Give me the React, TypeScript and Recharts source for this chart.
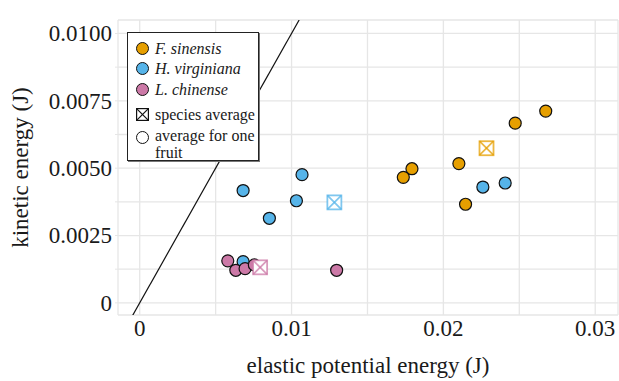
import React from "react";
import {
  ScatterChart,
  Scatter,
  XAxis,
  YAxis,
  CartesianGrid,
  ReferenceLine,
} from "recharts";

// individual fruit averages (J)
const fsX = [0.02674, 0.02473, 0.02102, 0.01793, 0.01736, 0.02146];
const fsY = [0.00712, 0.00667, 0.00517, 0.00498, 0.00466, 0.00366];
const hvX = [0.00681, 0.01069, 0.01032, 0.00854, 0.0226, 0.02407, 0.00681];
const hvY = [0.00417, 0.00476, 0.00379, 0.00314, 0.0043, 0.00445, 0.00153];
const lcX = [0.0058, 0.00633, 0.00694, 0.00755, 0.01297];
const lcY = [0.00156, 0.00121, 0.00127, 0.00141, 0.00121];

// species averages
const avgX = [0.02284, 0.01282, 0.00793];
const avgY = [0.00574, 0.00373, 0.00132];

const species = ["F. sinensis", "H. virginiana", "L. chinense"];
const colors = ["#E69F00", "#56B4E9", "#CC79A7"];

const xTicks = [0, 0.005, 0.01, 0.015, 0.02, 0.025, 0.03];
const yTicks = [0, 0.00125, 0.0025, 0.00375, 0.005, 0.00625, 0.0075, 0.00875, 0.01];
const xDomain = [-0.00143, 0.0315];
const yDomain = [-0.00045, 0.0105];

const toPoints = (xs: number[], ys: number[]) => xs.map((x, i) => ({ x, y: ys[i] }));

const FONT = "'Liberation Serif', 'Times New Roman', serif";
const GRID = "#e6e6e6";
const TEXT = "#1a1a1a";
const txtStyle = { fontFamily: FONT, fill: TEXT };

const fmtX = (v: number) => {
  if (v === 0) return "0";
  const k = Math.round(v / 0.005);
  return k % 2 === 0 ? v.toFixed(2) : "";
};
const fmtY = (v: number) => {
  if (v === 0) return "0";
  const k = Math.round(v / 0.00125);
  return k % 2 === 0 ? v.toFixed(4) : "";
};

// eslint-disable-next-line @typescript-eslint/no-explicit-any
const XTick = (p: any) => (
  <text x={p.x} y={p.y + 16} textAnchor="middle" fontSize={23} style={txtStyle}>
    {fmtX(p.payload.value)}
  </text>
);
// eslint-disable-next-line @typescript-eslint/no-explicit-any
const YTick = (p: any) => (
  <text x={p.x} y={p.y + 7.8} textAnchor="end" fontSize={23} style={txtStyle}>
    {fmtY(p.payload.value)}
  </text>
);

// eslint-disable-next-line @typescript-eslint/no-explicit-any
const dot = (color: string) => (props: any) => (
  <circle cx={props.cx} cy={props.cy} r={6} fill={color} stroke="#111" strokeWidth={1.2} />
);

// eslint-disable-next-line @typescript-eslint/no-explicit-any
const avgMark = (props: any) => {
  const { cx, cy } = props;
  const c = props.payload.color;
  const h = 7;
  return (
    <g stroke={c} strokeOpacity={0.75} strokeWidth={1.8} fill="#fff">
      <rect x={cx - h} y={cy - h} width={h * 2} height={h * 2} />
      <line x1={cx - h} y1={cy - h} x2={cx + h} y2={cy + h} />
      <line x1={cx - h} y1={cy + h} x2={cx + h} y2={cy - h} />
    </g>
  );
};

function LegendBox() {
  const row = { display: "flex", alignItems: "center", height: 20 } as const;
  const icon = (c: string) => (
    <span
      style={{
        width: 11,
        height: 11,
        borderRadius: "50%",
        background: c,
        border: "1px solid #111",
        marginRight: 6,
        flex: "none",
      }}
    />
  );
  return (
    <div
      style={{
        position: "absolute",
        left: 127,
        top: 32,
        width: 132,
        height: 129,
        border: "1px solid #222",
        boxShadow: "1px 1px 0 #777",
        background: "#fff",
        fontFamily: FONT,
        fontSize: 16,
        color: TEXT,
        padding: "5px 0 0 8px",
        boxSizing: "border-box",
        lineHeight: "17px",
      }}
    >
      {species.map((s, i) => (
        <div key={s} style={{ ...row, height: 20.5, fontStyle: "italic" }}>
          {icon(colors[i])}
          {s}
        </div>
      ))}
      <div style={{ ...row, marginTop: 5 }}>
        <svg width={13} height={13} style={{ marginRight: 6, flex: "none" }}>
          <g stroke="#111" strokeWidth={1.2} fill="#fff">
            <rect x={0.6} y={0.6} width={11.8} height={11.8} />
            <line x1={0.6} y1={0.6} x2={12.4} y2={12.4} />
            <line x1={0.6} y1={12.4} x2={12.4} y2={0.6} />
          </g>
        </svg>
        species average
      </div>
      <div style={{ display: "flex", alignItems: "flex-start", marginTop: 2 }}>
        <span
          style={{
            width: 11,
            height: 11,
            borderRadius: "50%",
            border: "1px solid #111",
            marginRight: 6,
            marginTop: 4,
            flex: "none",
          }}
        />
        <span>
          average for one
          <br />
          fruit
        </span>
      </div>
    </div>
  );
}

export default function App() {
  const avgData = avgX.map((x, i) => ({ x, y: avgY[i], color: colors[i] }));
  return (
    <div style={{ position: "fixed", left: 0, top: 0, width: 619, height: 381, background: "#fff" }}>
      <ScatterChart width={619} height={381} margin={{ top: 20, right: 1, left: 0, bottom: 0 }}>
        <CartesianGrid stroke={GRID} strokeWidth={1.3} />
        <XAxis
          type="number"
          dataKey="x"
          domain={xDomain}
          allowDataOverflow
          ticks={xTicks}
          axisLine={false}
          tickLine={false}
          tickSize={0}
          tickMargin={5}
          height={66}
          tick={<XTick />}
          label={{
            // eslint-disable-next-line @typescript-eslint/no-explicit-any
            content: (p: any) => (
              <text
                x={p.viewBox.x + p.viewBox.width / 2}
                y={372.5}
                textAnchor="middle"
                fontSize={23}
                style={txtStyle}
              >
                elastic potential energy (J)
              </text>
            ),
          }}
        />
        <YAxis
          type="number"
          dataKey="y"
          domain={yDomain}
          allowDataOverflow
          ticks={yTicks}
          axisLine={false}
          tickLine={{ stroke: GRID }}
          tickSize={3}
          tickMargin={3}
          width={118}
          tick={<YTick />}
          label={{
            // eslint-disable-next-line @typescript-eslint/no-explicit-any
            content: (p: any) => {
              const cx = 28;
              const cy = p.viewBox.y + p.viewBox.height / 2;
              return (
                <text
                  x={cx}
                  y={cy}
                  transform={`rotate(-90 ${cx} ${cy})`}
                  textAnchor="middle"
                  fontSize={23}
                  style={txtStyle}
                >
                  kinetic energy (J)
                </text>
              );
            },
          }}
        />
        <ReferenceLine
          segment={[
            { x: xDomain[0], y: xDomain[0] },
            { x: yDomain[1], y: yDomain[1] },
          ]}
          ifOverflow="hidden"
          stroke="#111"
          strokeWidth={1.2}
        />
        <Scatter data={toPoints(fsX, fsY)} shape={dot(colors[0])} isAnimationActive={false} />
        <Scatter data={toPoints(hvX, hvY)} shape={dot(colors[1])} isAnimationActive={false} />
        <Scatter data={toPoints(lcX, lcY)} shape={dot(colors[2])} isAnimationActive={false} />
        <Scatter data={avgData} shape={avgMark} isAnimationActive={false} />
      </ScatterChart>
      <LegendBox />
    </div>
  );
}
